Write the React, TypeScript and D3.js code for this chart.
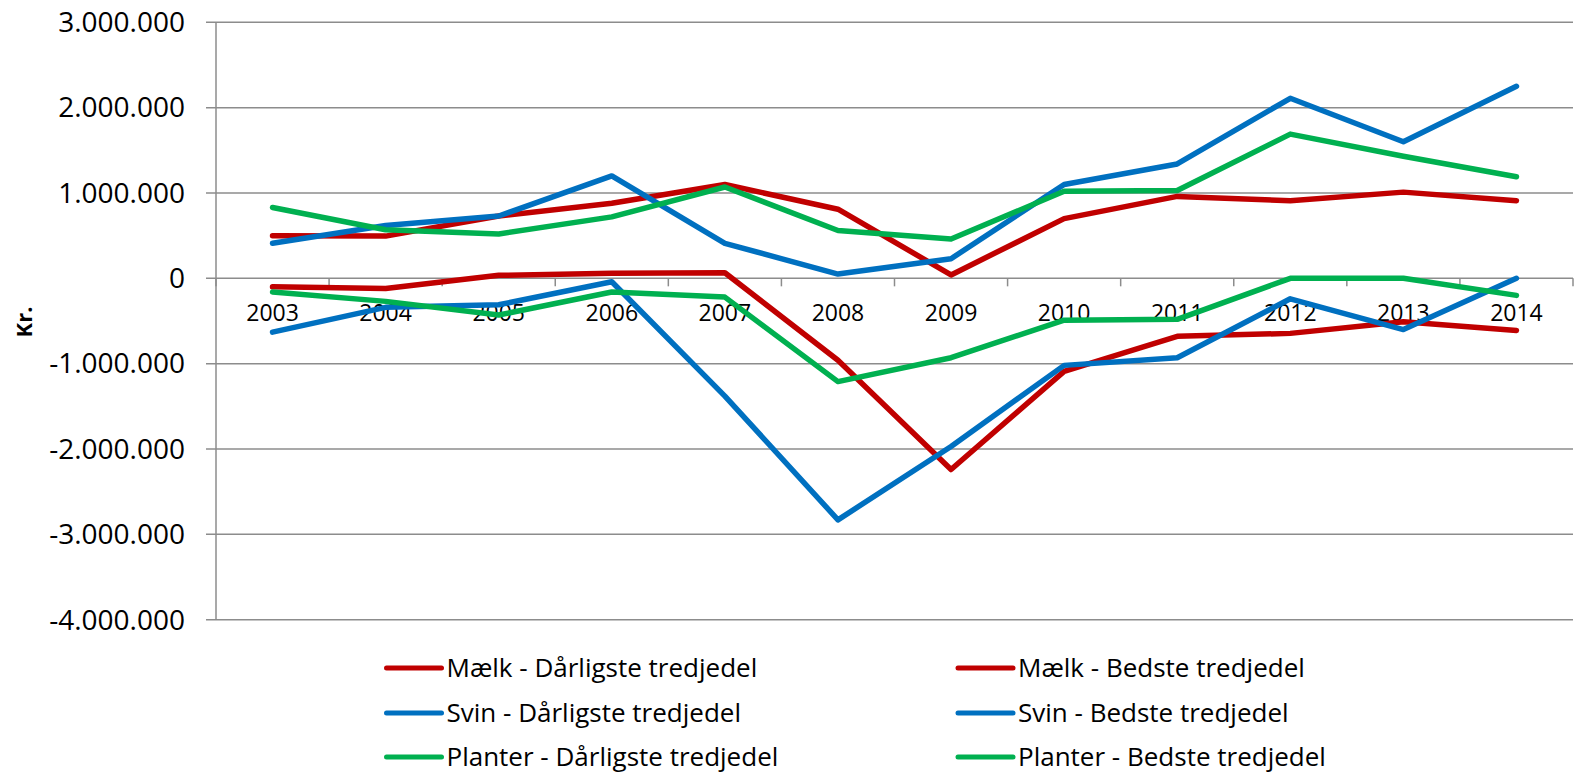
import React from "react";
import * as d3 from "d3";

const years = ["2003","2004","2005","2006","2007","2008","2009","2010","2011","2012","2013","2014"];
const yTicks = [3000000, 2000000, 1000000, 0, -1000000, -2000000, -3000000, -4000000];

const maelkDaarligste = [-100000, -120000, 35000, 60000, 65000, -960000, -2240000, -1090000, -680000, -645000, -510000, -610000];
const maelkBedste = [500000, 495000, 730000, 880000, 1100000, 810000, 40000, 700000, 960000, 910000, 1010000, 910000];
const svinDaarligste = [-630000, -340000, -310000, -40000, -1380000, -2830000, -1970000, -1020000, -930000, -240000, -600000, 0];
const svinBedste = [410000, 620000, 730000, 1200000, 410000, 50000, 230000, 1100000, 1340000, 2110000, 1600000, 2250000];
const planterDaarligste = [-160000, -270000, -430000, -160000, -220000, -1210000, -930000, -490000, -480000, 0, 0, -200000];
const planterBedste = [830000, 570000, 520000, 720000, 1070000, 560000, 460000, 1020000, 1030000, 1690000, 1430000, 1190000];

const seriesNames = [
  "Mælk - Dårligste tredjedel",
  "Mælk - Bedste tredjedel",
  "Svin - Dårligste tredjedel",
  "Svin - Bedste tredjedel",
  "Planter - Dårligste tredjedel",
  "Planter - Bedste tredjedel",
];
const seriesValues = [maelkDaarligste, maelkBedste, svinDaarligste, svinBedste, planterDaarligste, planterBedste];
const seriesColors = ["#C00000", "#C00000", "#0070C0", "#0070C0", "#00B050", "#00B050"];

const W = 1574;
const H = 773;
const FONT = "'Open Sans', 'Noto Sans', sans-serif";

export default function App() {
  const left = 216;
  const right = 1573;
  const top = 22.3;
  const bottom = 619.7;

  const x = d3.scaleBand<string>().domain(years).range([left, right]).paddingInner(0).paddingOuter(0);
  const y = d3.scaleLinear().domain([-4000000, 3000000]).range([bottom, top]);
  const cx = (yr: string) => (x(yr) as number) + x.bandwidth() / 2;
  const fmt = (v: number) =>
    v === 0 ? "0" : d3.format(",")(v).replace(/,/g, ".").replace(/\u2212/g, "-");

  const line = d3
    .line<number>()
    .x((_, i) => cx(years[i]))
    .y((d) => y(d));

  const gridColor = "#8c8c8c";
  const y0 = y(0);
  const boundaries = d3.range(years.length + 1).map((i) => left + i * x.bandwidth());

  const legendCols = [386.5, 958];
  const legendRows = [668, 713, 757];

  return (
    <svg width={W} height={H} style={{ position: "absolute", left: 0, top: 0, background: "#fff" }}>
      {yTicks.map((t) => (
        <g key={t}>
          <line x1={206} x2={right} y1={y(t)} y2={y(t)} stroke={gridColor} strokeWidth={1.5} />
          <text
            x={185}
            y={y(t)}
            dy="0.35em"
            textAnchor="end"
            fontFamily={FONT}
            fontSize={28}
            fill="#000"
          >
            {fmt(t)}
          </text>
        </g>
      ))}
      <line x1={left} x2={left} y1={top} y2={bottom} stroke={gridColor} strokeWidth={1.5} />
      {boundaries.map((bx, i) => (
        <line key={i} x1={bx} x2={bx} y1={y0} y2={y0 + 8} stroke={gridColor} strokeWidth={1.5} />
      ))}
      {years.map((yr) => (
        <text
          key={yr}
          x={cx(yr)}
          y={321}
          textAnchor="middle"
          fontFamily={FONT}
          fontSize={23}
          fill="#000"
        >
          {yr}
        </text>
      ))}
      <text
        transform={`translate(${32},${322}) rotate(-90)`}
        textAnchor="middle"
        fontFamily={FONT}
        fontSize={22}
        fontWeight="bold"
        fill="#000"
      >
        Kr.
      </text>
      {seriesValues.map((vals, i) => (
        <path
          key={i}
          d={line(vals) || ""}
          fill="none"
          stroke={seriesColors[i]}
          strokeWidth={5.5}
          strokeLinecap="round"
          strokeLinejoin="round"
        />
      ))}
      {seriesNames.map((name, i) => {
        const col = i % 2;
        const row = Math.floor(i / 2);
        const lx = legendCols[col];
        const ly = legendRows[row];
        return (
          <g key={name}>
            <line
              x1={lx}
              x2={lx + 55}
              y1={ly}
              y2={ly}
              stroke={seriesColors[i]}
              strokeWidth={5}
              strokeLinecap="round"
            />
            <text
              x={lx + 60}
              y={ly}
              dy="0.33em"
              fontFamily={FONT}
              fontSize={26}
              fill="#000"
            >
              {name}
            </text>
          </g>
        );
      })}
    </svg>
  );
}
